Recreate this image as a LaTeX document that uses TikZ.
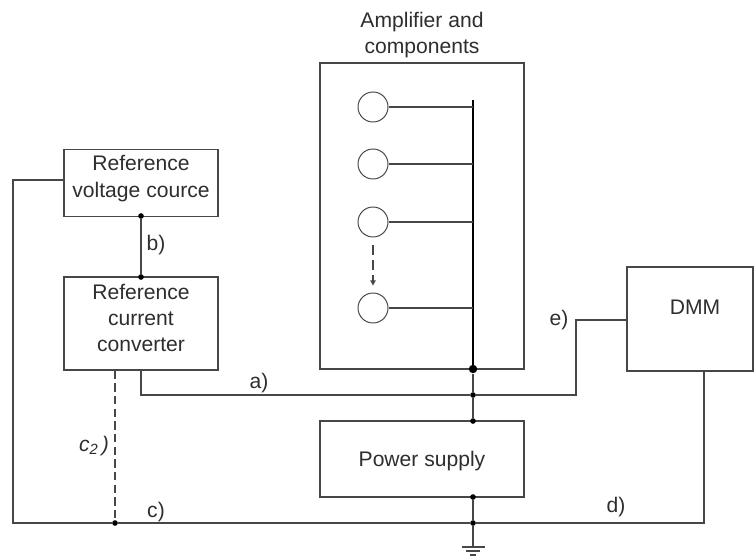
\documentclass[tikz,border=0pt]{standalone}
\usepackage{fontspec}
\setmainfont{Liberation Sans}
\usetikzlibrary{arrows.meta}
\definecolor{wirecol}{gray}{0.28}
\definecolor{textcol}{gray}{0.18}
\tikzset{
  blockbox/.style={draw=wirecol, line width=0.85pt, fill=white, inner sep=0pt, align=center, text=textcol, font=\fontsize{15}{18.6}\selectfont},
  wire/.style={draw=wirecol, line width=0.85pt},
  dot/.style={circle, fill=black, inner sep=0pt, minimum size=4pt},
  bigdot/.style={circle, fill=black, inner sep=0pt, minimum size=6pt},
  pad/.style={circle, draw=wirecol, line width=0.7pt, fill=white, inner sep=0pt, minimum size=0.75cm},
  tag/.style={inner sep=0pt, align=center, text=textcol, font=\fontsize{15}{18.6}\selectfont}
}
\begin{document}
\begin{tikzpicture}[x=0.025cm,y=-0.025cm]
    \useasboundingbox (0,0) rectangle (754,556);

    %blocks
    \node [blockbox, minimum width=3.85cm, minimum height=1.675cm] (vref) at (141,183) {};
    \node [tag] (vreftext) at (141,178.5) {Reference\\voltage cource};
    \node [blockbox, minimum width=3.85cm, minimum height=2.325cm] (conv) at (141,323.5) {};
    \node [tag] (convtext) at (141,318) {Reference\\current\\converter};
    \node [blockbox, minimum width=5.1cm, minimum height=7.65cm] (amp) at (422,216) {};
    \node [tag] (amptitle) at (422,35) {Amplifier and\\components};
    \node [blockbox, minimum width=5.1cm, minimum height=1.9cm] (psu) at (422,459) {};
    \node [tag] (psutext) at (422,461.5) {Power supply};
    \node [blockbox, minimum width=3.15cm, minimum height=2.6cm] (dmm) at (690,319) {};
    \node [tag] (dmmtext) at (695,307) {DMM};

    %bus inside the amplifier
    \coordinate (bustop) at (473,100);
    \node [bigdot] (busend) at (473,369) {};
    \draw [black, line width=1.2pt] (bustop) -- (busend);

    %pads
    \foreach \name/\y in {pada/107,padb/164,padc/222,padd/308} {
        \node [pad] (\name) at (373,\y) {};
        \coordinate (\name bus) at (473,\y);
        \draw [wire] (\name) -- (\name bus);
    }
    \coordinate (stepfrom) at (373,245);
    \coordinate (stepto) at (373,286);
    \draw [wire, dash pattern=on 7pt off 3.5pt, -{Latex[length=4pt,width=4.5pt]}] (stepfrom) -- (stepto);

    %junctions
    \node [dot] (vrefdot) at (141,216) {};
    \node [dot] (convdot) at (141,277) {};
    \node [dot] (adot) at (473,395) {};
    \node [dot] (psutop) at (473,421) {};
    \node [dot] (psubot) at (473,497) {};
    \node [dot] (gnddot) at (473,523) {};
    \node [dot] (cdot) at (115,523) {};

    %wires
    \draw [wire] (vrefdot) -- (convdot);
    \draw [wire] (busend) -- (adot) -- (psutop);
    \draw [wire] (psubot) -- (gnddot);
    \draw [wire] (conv.south -| convdot) |- (adot);
    \draw [wire] (adot) -| (576,320) -- (dmm.west |- 0,320);
    \draw [wire] (dmm.south -| 704,0) |- (gnddot);
    \draw [wire] (gnddot) -- (cdot);
    \draw [wire] (cdot) -| (13,180) -- (vref.west |- 0,180);
    \draw [wire, dash pattern=on 6pt off 3pt] (conv.south -| cdot) -- (cdot);

    %ground
    \coordinate (gnd) at (473,547);
    \draw [wire] (gnddot) -- (gnd);
    \draw [wire] (462,547) -- (485,547);
    \draw [wire] (466,551) -- (480,551);
    \draw [wire] (470,555) -- (476,555);

    %labels
    \node [tag] (taga) at (259,383) {a)};
    \node [tag] (tagb) at (156,245) {b)};
    \node [tag] (tagc) at (156,512) {c)};
    \node [tag] (tagd) at (616,507) {d)};
    \node [tag] (tage) at (559,320.5) {e)};
    \node [tag] (tagctwo) at (94,446) {\textit{c\textsubscript{2}\,)}};
\end{tikzpicture}
\end{document}
